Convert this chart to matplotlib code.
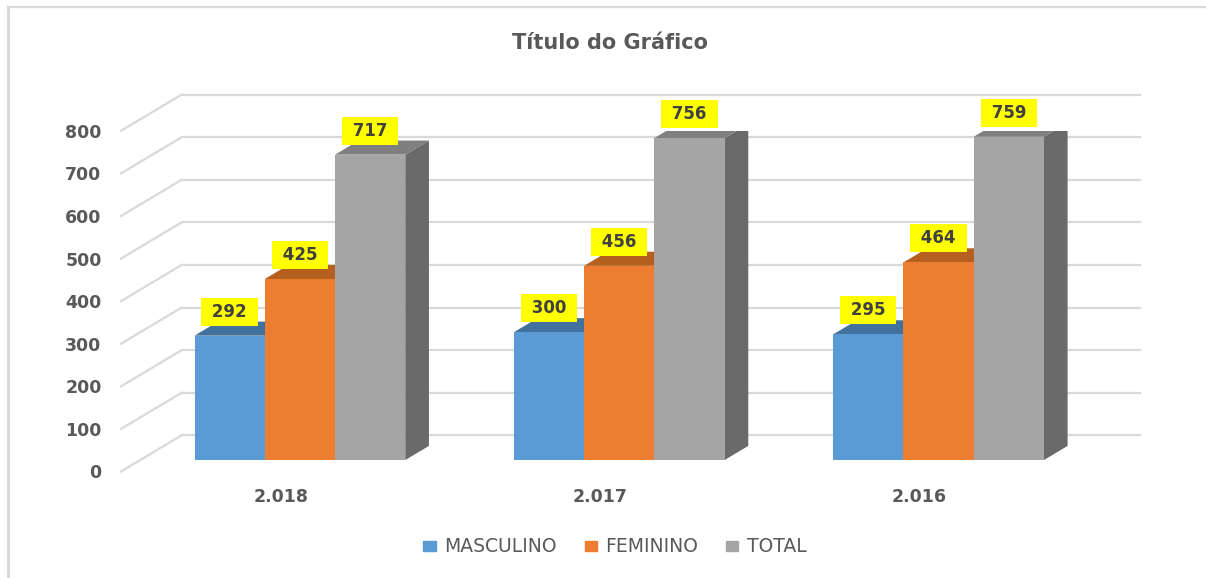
import matplotlib.pyplot as plt
from matplotlib.patches import Polygon, Patch
import numpy as np

plt.rcParams["font.family"] = ["DejaVu Sans"]

# data
anos = ["2.018", "2.017", "2.016"]
series = ["MASCULINO", "FEMININO", "TOTAL"]
masculino = [292, 300, 295]
feminino = [425, 456, 464]
total = [717, 756, 759]
yticks = [0, 100, 200, 300, 400, 500, 600, 700, 800]

front = ["#5B9BD5", "#ED7D31", "#A5A5A5"]
top = ["#41719C", "#B5601F", "#7F7F7F"]
side = ["#3A6690", "#A0531C", "#6A6A6A"]
txt = "#595959"
grid = "#D9D9D9"

# oblique "3d" depth, in data units
DX, DY = 0.19, 85.0   # full floor depth
f0 = 0.317            # where the bar front sits in the depth
bd = 0.39             # bar depth
w = 0.22              # bar width

fig = plt.figure(figsize=(12.06, 5.78), dpi=100)
ax = fig.add_axes([0.10033, 0.18426, 0.79436, 0.58945])
ax.set_xlim(0, 3)
ax.set_ylim(0, 800)
for s in ax.spines.values():
    s.set_visible(False)

# walls
for v in yticks:
    ax.plot([DX, 3 + DX], [v + DY, v + DY], color=grid, lw=1.6, zorder=1, clip_on=False)
    ax.plot([0, DX], [v, v + DY], color=grid, lw=1.6, zorder=1, clip_on=False)

x = np.arange(len(anos)) + 0.5
for k, vals in enumerate([masculino, feminino, total]):
    xc = x + (k - 1) * w + f0 * DX
    base = f0 * DY
    ax.bar(xc, vals, w, bottom=base, color=front[k], zorder=3 + k * 3 + 2)
    for xi, v in zip(xc, vals):
        xl, xr, yt = xi - w / 2, xi + w / 2, base + v
        ax.add_patch(Polygon([(xr, base), (xr, yt), (xr + bd * DX, yt + bd * DY),
                              (xr + bd * DX, base + bd * DY)], closed=True,
                             facecolor=side[k], lw=0, zorder=3 + k * 3))
        ax.add_patch(Polygon([(xl, yt), (xr, yt), (xr + bd * DX, yt + bd * DY),
                              (xl + bd * DX, yt + bd * DY)], closed=True,
                             facecolor=top[k], lw=0, zorder=3 + k * 3 + 1))
        ax.annotate(f" {v} ", (xi, yt), xytext=(0, 24), textcoords="offset pixels",
                    ha="center", va="center", fontsize=12, fontweight="bold",
                    color="#404040", zorder=20,
                    bbox=dict(boxstyle="square,pad=0.3", fc="#FFFF00", ec="none"))

ax.set_yticks(yticks)
ax.set_yticklabels([str(t) for t in yticks])
ax.set_xticks(x)
ax.set_xticklabels(anos)
ax.tick_params(axis="y", length=0, pad=14, labelsize=12.5, labelcolor=txt)
ax.tick_params(axis="x", length=0, pad=12, labelsize=12.5, labelcolor=txt)
for lab in ax.get_xticklabels() + ax.get_yticklabels():
    lab.set_fontweight("bold")

fig.text(610 / 1206, 1 - 43 / 578, "Título do Gráfico", ha="center", va="center",
         fontsize=15, fontweight="bold", color=txt)

handles = [Patch(color=c, label=s) for c, s in zip(front, series)]
fig.legend(handles=handles, loc="center", bbox_to_anchor=(615 / 1206, 1 - 547 / 578),
           ncol=3, frameon=False, fontsize=13.5, handlelength=0.65, handleheight=0.5,
           handletextpad=0.45, columnspacing=1.5, labelcolor=txt)

# chart border (left and top visible)
fig.add_artist(plt.Line2D([8 / 1206, 8 / 1206], [0, 1 - 7 / 578], color=grid, lw=2.2))
fig.add_artist(plt.Line2D([8 / 1206, 1], [1 - 7 / 578, 1 - 7 / 578], color=grid, lw=1.6))

fig.savefig("out.png", dpi=100)
